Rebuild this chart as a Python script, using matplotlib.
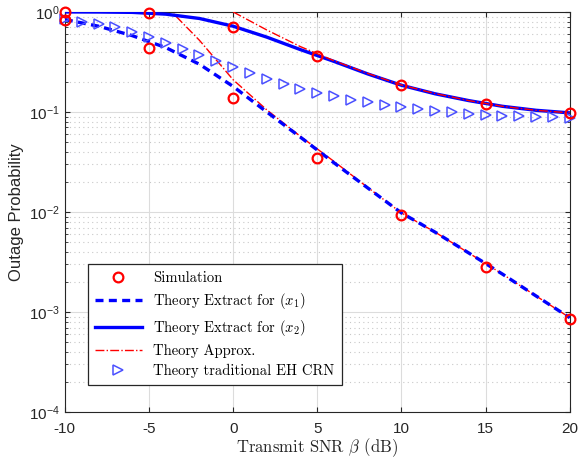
import matplotlib
matplotlib.use("Agg")
import matplotlib.pyplot as plt
import numpy as np

plt.rcParams['font.family'] = ['Liberation Sans', 'DejaVu Sans']
plt.rcParams['mathtext.fontset'] = 'cm'
plt.rcParams['axes.unicode_minus'] = False

# simulation points (every 5 dB)
snr_sim = [-10, -5, 0, 5, 10, 15, 20]
sim_x1 = [0.83, 0.44, 0.138, 0.035, 0.0093, 0.0028, 0.00085]
sim_x2 = [1.0, 0.97, 0.71, 0.36, 0.186, 0.12, 0.098]

# exact theory curves (every 2 dB)
snr_th = [-10, -8, -6, -4, -2, 0, 2, 4, 6, 8, 10, 12, 14, 16, 18, 20]
th_x1 = [0.84, 0.72, 0.58, 0.44, 0.3, 0.18, 0.1, 0.056, 0.031, 0.0174, 0.0098,
         0.0063, 0.0039, 0.0024, 0.00145, 0.00088]
th_x2 = [1.0, 0.998, 0.99, 0.95, 0.86, 0.72, 0.56, 0.42, 0.32, 0.24, 0.185,
         0.152, 0.13, 0.114, 0.104, 0.098]

# high-SNR approximations
snr_ap1 = [-4, -2, 0, 2, 4, 6, 8, 10, 12, 14, 16, 18, 20]
ap_x1 = [1.15, 0.52, 0.21, 0.105, 0.057, 0.032, 0.0176, 0.0098, 0.0063,
         0.0039, 0.0024, 0.00145, 0.00088]
snr_ap2 = [0, 2, 4, 6, 8, 10, 12, 14, 16, 18, 20]
ap_x2 = [1.0, 0.66, 0.45, 0.325, 0.243, 0.186, 0.153, 0.13, 0.114, 0.104, 0.098]

# traditional EH CRN (every 1 dB)
snr_trad = list(range(-10, 21))
trad = [0.85, 0.80, 0.75, 0.70, 0.63, 0.56, 0.49, 0.43, 0.37, 0.32, 0.28,
        0.245, 0.215, 0.19, 0.17, 0.155, 0.143, 0.133, 0.125, 0.118, 0.112,
        0.107, 0.103, 0.099, 0.096, 0.094, 0.092, 0.091, 0.09, 0.089, 0.088]

fig = plt.figure(figsize=(5.79, 4.59), dpi=100)
ax = fig.add_axes([0.112, 0.102, 0.872, 0.872])

ax.plot(snr_sim, sim_x1, 'o', color='red', mfc='none', ms=7, mew=1.6,
        clip_on=False, zorder=5, label='Simulation')
ax.plot(snr_sim, sim_x2, 'o', color='red', mfc='none', ms=7, mew=1.6,
        clip_on=False, zorder=5)
ax.plot(snr_th, th_x1, color='blue', lw=2.4, dashes=(2.4, 1.6), zorder=3,
        label=r'Theory Extract for $(x_1)$')
ax.plot(snr_th, th_x2, color='blue', lw=2.4, ls='-', zorder=3,
        label=r'Theory Extract for $(x_2)$')
ax.plot(snr_ap1, ap_x1, color='red', lw=1, ls='-.', zorder=2,
        label='Theory Approx.')
ax.plot(snr_ap2, ap_x2, color='red', lw=1, ls='-.', zorder=4)
ax.plot(snr_trad, trad, '>', color='#4b50ff', mfc='none', ms=7, mew=1.1,
        clip_on=False, zorder=4, label='Theory traditional EH CRN')

ax.set_yscale('log')
ax.set_xlim(-10, 20)
ax.set_ylim(1e-4, 1)
ax.set_xticks([-10, -5, 0, 5, 10, 15, 20])
ax.set_yticks([1e-4, 1e-3, 1e-2, 1e-1, 1])
ax.set_yticklabels([r'$\mathregular{10^{-4}}$', r'$\mathregular{10^{-3}}$',
                    r'$\mathregular{10^{-2}}$', r'$\mathregular{10^{-1}}$',
                    r'$\mathregular{10^{0}}$'])
ax.tick_params(which='both', direction='in', top=True, right=True,
               colors='#262626', labelsize=11)
ax.tick_params(axis='x', pad=7)
ax.tick_params(which='minor', length=2)
ax.grid(True, which='major', color='#dcdcdc', lw=0.8)
ax.grid(True, which='minor', axis='y', color='#c8c8c8', lw=0.8, ls=(0, (1, 3)))
for s in ax.spines.values():
    s.set_color('#262626')

ax.set_xlabel(r'Transmit SNR $\beta$ (dB)', family='cmr10', fontsize=12,
              color='#262626', labelpad=0)
ax.set_ylabel('Outage Probability', fontsize=12, color='#262626', labelpad=4)

leg = ax.legend(loc='lower left', bbox_to_anchor=(0.045, 0.067), borderaxespad=0,
                fancybox=False, edgecolor='#262626', framealpha=1,
                prop={'family': 'cmr10', 'size': 10.5}, handlelength=3.2,
                labelspacing=0.42, borderpad=0.5)
leg.get_frame().set_linewidth(0.9)

fig.savefig('out.png', dpi=100)
